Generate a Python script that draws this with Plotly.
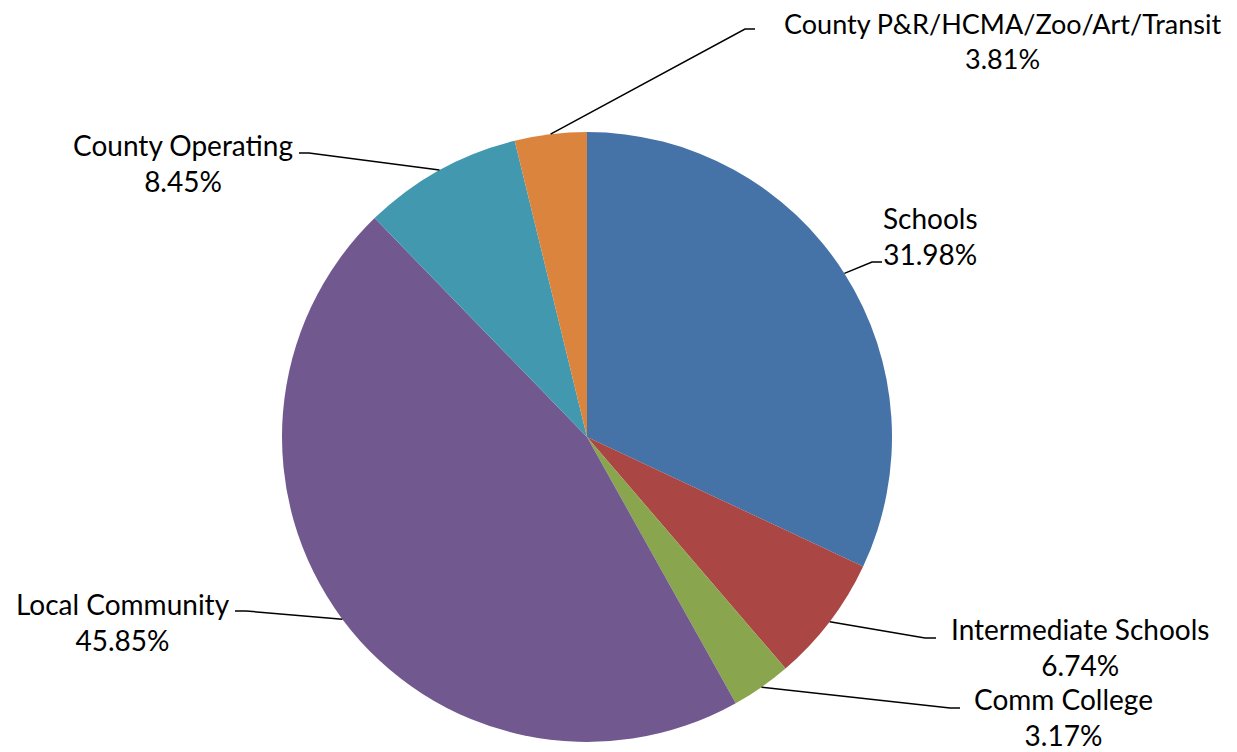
import math
import plotly.graph_objects as go

labels = ["Schools", "Intermediate Schools", "Comm College", "Local Community",
          "County Operating", "County P&R/HCMA/Zoo/Art/Transit"]
shares = [31.98, 6.74, 3.17, 45.85, 8.45, 3.81]
colors = ["#4572A7", "#AA4643", "#89A54E", "#71588F", "#4198AF", "#DB843D"]

OFF = 8            # page body has an 8px margin
W, H = 1237 - OFF, 752 - OFF
CX, CY, R = 587, 437, 305  # pie centre / radius in screen pixels

# label centre (px), font size, leader elbow (px) and tail length (+ right / - left)
label_pos = [(930, 236), (1080, 647), (1063, 717), (123, 622), (183, 163), (1002, 41)]
label_size = [28, 28, 28, 28, 28, 27]
elbows = [(872, 262, 10), (925, 638, 11), (950, 708, 10), (246, 611, -11),
          (309, 153, -10), (745, 29, 10)]


def px(x, y):
    return (x - OFF) / W, 1 - (y - OFF) / H


fig = go.Figure(go.Pie(
    labels=labels, values=shares, sort=False, direction="clockwise", rotation=0,
    marker=dict(colors=colors, line=dict(width=0)), textinfo="none",
    domain=dict(x=[px(CX - R, 0)[0], px(CX + R, 0)[0]],
                y=[px(0, CY + R)[1], px(0, CY - R)[1]]),
    showlegend=False,
))

total = sum(shares)
start = 0.0
shapes = []
annotations = []
for lab, val, (lx, ly), fs, (ex, ey, tail) in zip(labels, shares, label_pos, label_size, elbows):
    mid = math.radians((start + val / 2) / total * 360)
    start += val
    sx, sy = CX + R * math.sin(mid), CY - R * math.cos(mid)
    p0, p1, p2 = px(sx, sy), px(ex, ey), px(ex + tail, ey)
    shapes.append(dict(type="path", xref="paper", yref="paper",
                       path=f"M {p0[0]},{p0[1]} L {p1[0]},{p1[1]} L {p2[0]},{p2[1]}",
                       line=dict(color="black", width=1.5)))
    ax, ay = px(lx, ly)
    annotations.append(dict(x=ax, y=ay, xref="paper", yref="paper", showarrow=False,
                            xanchor="center", yanchor="middle", align="center",
                            text=f"{lab}<br>{val:.2f}%",
                            font=dict(family="Lato", size=fs, color="black")))

fig.update_layout(
    width=W, height=H, margin=dict(l=0, r=0, t=0, b=0),
    paper_bgcolor="white", plot_bgcolor="white",
    shapes=shapes, annotations=annotations,
)
fig.write_html("out.html")
